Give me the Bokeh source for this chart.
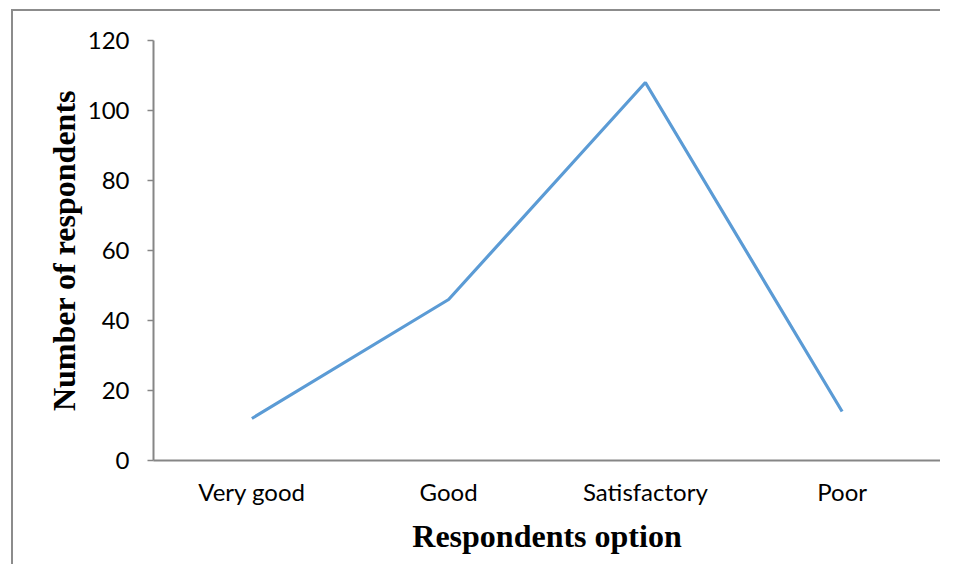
from bokeh.plotting import figure
from bokeh.models import FactorRange, Range1d, FixedTicker
from bokeh.embed import file_html
from bokeh.resources import INLINE

categories = ["Very good", "Good", "Satisfactory", "Poor"]
respondents = [12, 46, 108, 14]
y_ticks = [0, 20, 40, 60, 80, 100, 120]

p = figure(
    x_range=FactorRange(*categories),
    y_range=Range1d(0, 120),
    width=929, height=555,
    output_backend="svg", toolbar_location=None,
    min_border_left=140, min_border_top=29, min_border_right=2, min_border_bottom=106,
)
p.margin = (9, 0, 0, 11)
p.styles = {"border-left": "2px solid #8c8c8c", "border-top": "2px solid #8c8c8c"}

p.line(categories, respondents, line_color="#5B9BD5", line_width=3.2)

p.outline_line_color = None
p.xgrid.grid_line_color = None
p.ygrid.grid_line_color = None

ax = p.yaxis[0]
ax.ticker = FixedTicker(ticks=y_ticks)
ax.axis_line_color = "#868686"
ax.axis_line_width = 2
ax.major_tick_line_color = "#868686"
ax.major_tick_line_width = 1.5
ax.major_tick_out = 6
ax.major_tick_in = 0
ax.minor_tick_line_color = None
ax.major_label_text_font = "Lato"
ax.major_label_text_font_size = "24px"
ax.major_label_text_color = "#000000"
ax.major_label_standoff = 18
ax.axis_label = "Number of respondents"
ax.axis_label_text_font = "Liberation Serif"
ax.axis_label_text_font_style = "bold"
ax.axis_label_text_font_size = "32px"
ax.axis_label_text_color = "#000000"
ax.axis_label_standoff = 3

bx = p.xaxis[0]
bx.axis_line_color = "#868686"
bx.axis_line_width = 2
bx.major_tick_line_color = None
bx.minor_tick_line_color = None
bx.major_tick_out = 0
bx.major_tick_in = 0
bx.major_label_text_font = "Lato"
bx.major_label_text_font_size = "24px"
bx.major_label_text_color = "#000000"
bx.major_label_standoff = 16
bx.axis_label = "Respondents option"
bx.axis_label_text_font = "Liberation Serif"
bx.axis_label_text_font_style = "bold"
bx.axis_label_text_font_size = "32px"
bx.axis_label_text_color = "#000000"
bx.axis_label_standoff = 9

open("out.html", "w").write(file_html(p, INLINE))
